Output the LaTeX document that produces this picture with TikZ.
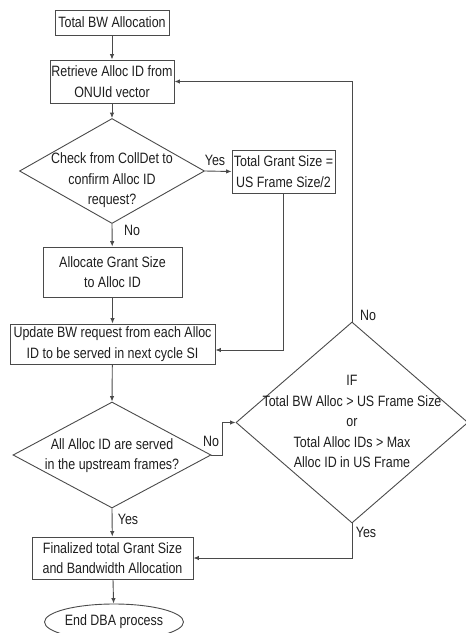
\documentclass[tikz,border=0pt]{standalone}
\usepackage{fontspec}
\setmainfont{Liberation Sans}[FakeStretch=0.83]
\usetikzlibrary{shapes.geometric,arrows.meta}
\definecolor{linec}{HTML}{4A4A4A}
\definecolor{textc}{HTML}{1E1E1E}

\begin{document}
\begin{tikzpicture}[x=1pt,y=-1pt,
  txt/.style={font=\fontsize{15}{20.5}\selectfont, text=textc, align=center, inner sep=1pt},
  box/.style={txt, draw=linec, line width=0.9pt, rectangle},
  decision/.style={draw=linec, line width=0.9pt, diamond, inner sep=0pt},
  terminal/.style={txt, draw=linec, line width=0.9pt, ellipse},
  flow/.style={draw=linec, line width=0.9pt, -{Latex[length=5.5pt,width=4.5pt]}},
  lbl/.style={txt, inner sep=0pt}]

\useasboundingbox (0,0) rectangle (466,633);
\clip (0,0) rectangle (466,633);

% main column
\node[box, minimum width=114pt, minimum height=25pt] (start) at (112,22.5) {Total BW Allocation};
\node[box, minimum width=124pt, minimum height=43pt] (retrieve) at (112,81.5) {Retrieve Alloc ID from\\ONUId vector};
\node[decision, minimum width=185pt, minimum height=105pt] (check) at (112,171) {};
\node[lbl] (checkt) at (112,180.5) {Check from CollDet to\\confirm Alloc ID\\request?};
\node[box, minimum width=103pt, minimum height=43pt] (half) at (283.5,171.5) {Total Grant Size =\\US Frame Size/2};
\node[box, minimum width=139pt, minimum height=50pt] (alloc) at (112.5,272) {Allocate Grant Size\\to Alloc ID};
\node[box, minimum width=205pt, minimum height=40pt] (update) at (112.5,344) {Update BW request from each Alloc\\ID to be served in next cycle SI};
\node[decision, minimum width=198pt, minimum height=106pt] (served) at (112,455) {};
\node[lbl] (servedt) at (112,455.5) {All Alloc ID are served\\in the upstream frames?};
\node[decision, minimum width=232pt, minimum height=201pt] (limit) at (352,422.5) {};
\node[lbl] (limitt) at (352,421.5) {IF\\Total BW Alloc > US Frame Size\\or\\Total Alloc IDs > Max\\Alloc ID in US Frame};
\node[box, minimum width=161pt, minimum height=42pt] (final) at (112.5,558) {Finalized total Grant Size\\and Bandwidth Allocation};
\node[terminal, minimum width=108pt, minimum height=36pt, inner sep=0pt] (stop) at (114,622) {End DBA process};

% connectors
\draw[flow] (start) -- (retrieve);
\draw[flow] (retrieve) -- (check.north);
\draw[flow] (check.east) -- (half.west);
\draw[flow] (check.south) -- (alloc);
\draw[flow] (alloc) -- (update);
\draw[flow] (half.south) |- ([yshift=-6pt]update.east);
\draw[flow] (update) -- (served.north);
\draw[flow] (served.east) -- ++(11,0) |- (limit.west);
\draw[flow] (served.south) -- (final);
\draw[flow] (limit.south) |- (final.east);
\draw[flow] (limit.north) |- (retrieve.east);
\draw[flow] (final) -- (stop);

% branch labels
\node[lbl] (yes1) at (215,160) {Yes};
\node[lbl] (no1) at (132,230) {No};
\node[lbl] (no2) at (211,441) {No};
\node[lbl] (yes2) at (128,519) {Yes};
\node[lbl] (no3) at (368,315) {No};
\node[lbl] (yes3) at (366,532) {Yes};
\end{tikzpicture}
\end{document}
